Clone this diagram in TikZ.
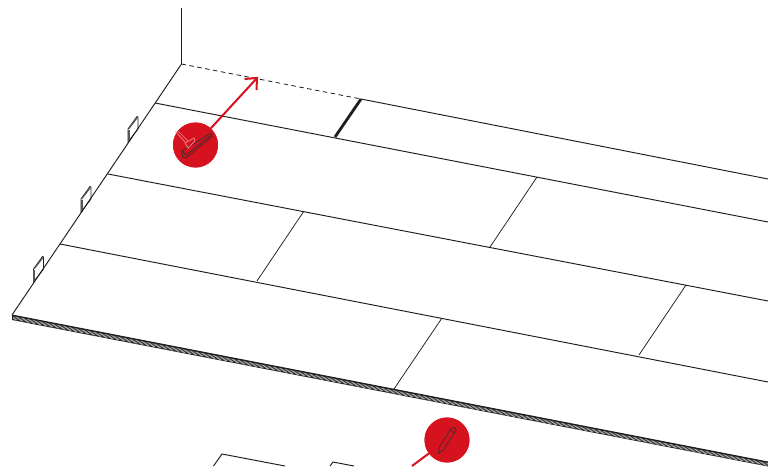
\documentclass[tikz,border=0pt]{standalone}
\definecolor{redc}{HTML}{D7121F}
\definecolor{ink}{HTML}{1E1E1E}
\definecolor{pinkc}{HTML}{EC8A90}
\definecolor{darkicon}{HTML}{4A2A2E}
\tikzset{
  seam/.style={draw=ink,line width=0.95pt},
  thin seam/.style={draw=ink,line width=0.75pt},
  redline/.style={draw=redc,line width=2pt},
  badge/.style={circle,fill=redc,draw=none,minimum size=45pt,inner sep=0pt},
  clipmark/.style={draw=ink,line width=0.8pt,fill=white}
}
\newcommand{\clipat}[2]{%
  \begin{scope}[shift={(#1,#2)}]
    \filldraw[clipmark] (0,0) -- (0,13) -- (10,0) -- (10,-12) -- (9,-12.5) -- cycle;
    \draw[draw=ink!75,line width=1.9pt] (0.8,0.5) -- (0.8,13);
    \draw[draw=ink!75,line width=1.1pt] (1,-0.5) -- (9.5,-11.5);
  \end{scope}}
\begin{document}
\begin{tikzpicture}[x=1pt,y=-1pt]
\useasboundingbox (0,0) rectangle (768,466);
\fill[white] (0,0) rectangle (768,466);
% corner points
\coordinate (wt) at (181.5,8);
\coordinate (c) at (181.5,64);
\coordinate (fl) at (12,315);
\coordinate (bt) at (361,99);
\coordinate (bb) at (335,137);
\coordinate (e0) at (768,179);
\coordinate (l1) at (155,103);
\coordinate (r1) at (768,222);
\coordinate (l2) at (108,174);
\coordinate (r2) at (768,301);
\coordinate (l3) at (60,244);
\coordinate (r3) at (768,382);
\coordinate (fr) at (768,462);
% clips
\clipat{128}{129}
\clipat{81}{199}
\clipat{33.5}{269}
% band
\fill[ink] (12,315) -- (768,462) -- (768,466.5) -- (12,320) -- cycle;
\begin{scope}
\clip (12,316) -- (768,463) -- (768,466) -- (12,319.5) -- cycle;
\foreach \x in {0,6,...,780}{
  \draw[white!62!black,line width=1.5pt] (\x,{315+(\x-12)*0.1944-1}) -- ++(11,7.5);
}
\end{scope}
% floor lines
\draw[seam] (wt) -- (c) -- (fl);
\draw[seam] (fl) -- (12,319.5);
\draw[seam] (fl) -- (fr);
\draw[draw=ink,line width=0.8pt,dash pattern=on 4.5pt off 3.5pt] (c) -- (bt);
\draw[seam] (bt) -- (e0);
\draw[seam] (l1) -- (r1);
\draw[seam] (l2) -- (r2);
\draw[seam] (l3) -- (r3);
\draw[draw=ink,line width=2.8pt] (bt) -- (bb);
% seams
\coordinate (s1a) at (537,177); \coordinate (s1b) at (490,247);
\coordinate (s2a) at (304,211); \coordinate (s2b) at (257,281);
\coordinate (s3a) at (686,285); \coordinate (s3b) at (639,355);
\coordinate (s4a) at (442,318); \coordinate (s4b) at (394,389);
\draw[thin seam] (s1a) -- (s1b);
\draw[thin seam] (s2a) -- (s2b);
\draw[thin seam] (s3a) -- (s3b);
\draw[thin seam] (s4a) -- (s4b);
% bottom fragments
\coordinate (f1) at (222,454);
\draw[seam] (213.5,466) -- (f1) -- (285,466);
\coordinate (f2) at (333,462);
\draw[seam] (330,466) -- (f2) -- (354,466);
% badge 1 and arrow
\node[badge] (b1) at (195.5,145) {};
\coordinate (tip) at (257,78);
\draw[redline] (b1) -- (tip);
\draw[redline] (244.5,79) -- (257,78) -- (256.5,90);
\node[badge] at (195.5,145) {};
\draw[draw=darkicon,line width=0.8pt] (182,151) -- (182.5,157) -- (186,158) -- (212,136.5) -- (211,133) -- cycle;
\draw[draw=darkicon,line width=0.8pt] (182,151) -- (186,155) -- (211.5,135);
\draw[draw=pinkc,line width=0.7pt] (177,130) -- (188,141) (175.5,131.5) -- (185.5,142.5);
\draw[draw=pinkc,line width=0.7pt] (185,143) -- (194,138) -- (195,141) -- (188,148) -- cycle;
% badge 2
\node[badge] (b2) at (447,440) {};
\coordinate (b2end) at (412,466);
\draw[redline] (b2) -- (b2end);
\node[badge] at (447,440) {};
\draw[draw=darkicon,line width=0.8pt,line join=round] (438.5,453.5) -- (439.5,447) -- (451,428.5) -- (454,427.5) -- (456,429.5) -- (455,432) -- (443.5,450) -- cycle;
\draw[draw=darkicon,line width=0.8pt] (450,430) -- (454.5,433);
\end{tikzpicture}
\end{document}
